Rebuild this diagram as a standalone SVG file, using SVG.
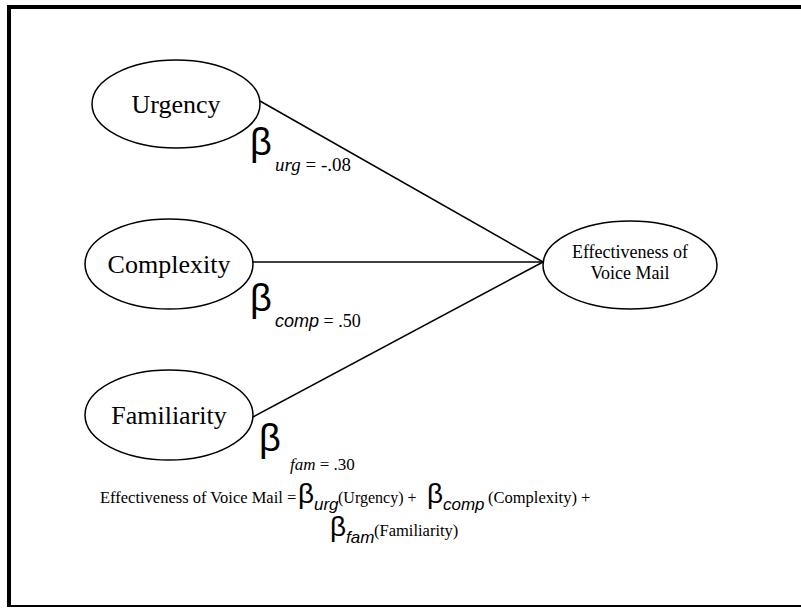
<svg xmlns="http://www.w3.org/2000/svg" width="801" height="609" viewBox="0 0 801 609">
<style>
.node{fill:#fff;stroke:#000;stroke-width:1.5}
.lbl{font-family:"Liberation Serif","Times New Roman",serif;fill:#000;text-anchor:middle}
.beta{font-family:"Liberation Sans",Arial,sans-serif;fill:#000}
.sub{font-family:"Liberation Serif","Times New Roman",serif;fill:#000}
.isub{font-family:"Liberation Sans",Arial,sans-serif;font-style:italic;fill:#000}
.eq{font-family:"Liberation Serif","Times New Roman",serif;fill:#000}
.conn{stroke:#000;stroke-width:1.5;fill:none}
</style>
<rect width="801" height="609" fill="#fff"/>
<g id="frame" stroke="#000" fill="none">
<line x1="7" y1="7" x2="801" y2="7" stroke-width="4"/>
<line x1="9" y1="5" x2="9" y2="607" stroke-width="4"/>
<line x1="7" y1="606" x2="801" y2="606" stroke-width="2"/>
</g>
<g id="connectors">
<line class="conn" x1="260" y1="101" x2="543" y2="262"/>
<line class="conn" x1="253" y1="262" x2="543" y2="262"/>
<line class="conn" x1="253" y1="417" x2="543" y2="262"/>
</g>
<g id="urgency">
<ellipse class="node" cx="176" cy="104" rx="84" ry="44"/>
<text class="lbl" x="176" y="113" font-size="26">Urgency</text>
</g>
<g id="complexity">
<ellipse class="node" cx="169" cy="264" rx="84" ry="45"/>
<text class="lbl" x="169" y="273" font-size="26">Complexity</text>
</g>
<g id="familiarity">
<ellipse class="node" cx="169" cy="415" rx="84" ry="45"/>
<text class="lbl" x="169" y="424" font-size="26">Familiarity</text>
</g>
<g id="effectiveness">
<ellipse class="node" cx="630" cy="265" rx="87" ry="44"/>
<text class="lbl" x="630" y="258" font-size="18">Effectiveness of</text>
<text class="lbl" x="630" y="279" font-size="18">Voice Mail</text>
</g>
<g id="labels">
<text class="beta" x="250" y="155" font-size="38">β</text>
<text x="275" y="171" font-size="19"><tspan class="sub" font-style="italic">urg</tspan><tspan class="sub"> = -.08</tspan></text>
<text class="beta" x="250" y="311" font-size="38">β</text>
<text x="275" y="327" font-size="18"><tspan class="isub">comp</tspan><tspan class="sub"> = .50</tspan></text>
<text class="beta" x="259" y="451" font-size="38">β</text>
<text x="290" y="470" font-size="17"><tspan class="sub" font-style="italic">fam</tspan><tspan class="sub"> = .30</tspan></text>
</g>
<g id="equation">
<text class="eq" x="100" y="503" font-size="16.5">Effectiveness of Voice Mail =</text>
<text class="beta" x="298" y="503" font-size="28">β</text>
<text class="isub" x="314" y="510" font-size="17">urg</text>
<text class="eq" x="338" y="503" font-size="16">(Urgency) +</text>
<text class="beta" x="427" y="503" font-size="28">β</text>
<text class="isub" x="443" y="510" font-size="17">comp</text>
<text class="eq" x="488" y="503" font-size="16.5">(Complexity) +</text>
<text class="beta" x="330" y="536" font-size="28">β</text>
<text class="isub" x="346" y="543" font-size="17">fam</text>
<text class="eq" x="374" y="536" font-size="16.5">(Familiarity)</text>
</g>
</svg>
